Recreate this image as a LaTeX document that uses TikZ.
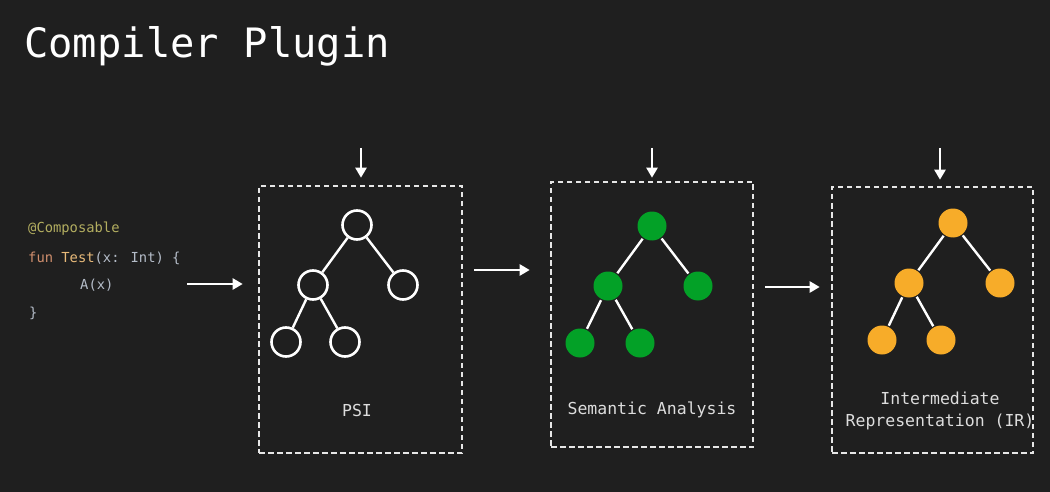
\documentclass[tikz,border=0pt]{standalone}
\usepackage{fontspec}
\newfontfamily\monofont{DejaVu Sans Mono}
\usetikzlibrary{arrows.meta}
\definecolor{bgc}{HTML}{1F1F1F}
\definecolor{boxc}{HTML}{E6E6E6}
\definecolor{greenc}{HTML}{03A127}
\definecolor{orangec}{HTML}{F7AC29}
\definecolor{annot}{HTML}{B3AE60}
\definecolor{kw}{HTML}{CF8E6D}
\definecolor{fnc}{HTML}{E8BA7A}
\definecolor{codec}{HTML}{B4BCC8}
\definecolor{labc}{HTML}{DDDDDD}
\tikzset{
  px/.style={x=1pt,y=-1pt},
  stagebox/.style={draw=boxc,line width=2.6pt,dash pattern=on 5.5pt off 3.5pt},
  flow/.style={draw=white,line width=2.4pt,-{Triangle[length=10pt,width=11pt]}},
  tnode/.style={circle,minimum size=29pt,inner sep=0pt,line width=2.6pt},
  openn/.style={tnode,draw=white},
  greenn/.style={tnode,fill=greenc},
  orangen/.style={tnode,fill=orangec},
  tedge/.style={draw=white,line width=2.4pt},
  lab/.style={font=\monofont\fontsize{16.5}{22}\selectfont,text=labc,align=center},
  code/.style={font=\monofont\fontsize{13.8}{16}\selectfont,anchor=west,inner sep=0pt}
}
\begin{document}
\begin{tikzpicture}[px]
\fill[bgc] (0,0) rectangle (1050,492);
\useasboundingbox (0,0) rectangle (1050,492);
% title
\node[font=\monofont\fontsize{40.5}{44}\selectfont,text=white,anchor=west,inner sep=0pt] (title) at (24,46) {Compiler Plugin};
% code
\node[code,text=annot] (c1) at (28,229) {@Composable};
\node[code] (c2) at (28,258) {\textcolor{kw}{fun} \textcolor{fnc}{Test}\textcolor{codec}{(x: Int) \{}};
\node[code,text=codec] (c3) at (80,285) {A(x)};
\node[code,text=codec] (c4) at (29,313) {\}};
% boxes
\node[stagebox,minimum width=203pt,minimum height=267pt,inner sep=0pt] (b1) at (360.5,319.5) {};
\node[stagebox,minimum width=202pt,minimum height=265pt,inner sep=0pt] (b2) at (652,314.5) {};
\node[stagebox,minimum width=201pt,minimum height=266pt,inner sep=0pt] (b3) at (932.5,320) {};
% top arrows
\coordinate (t1) at (361,148);
\coordinate (t2) at (652,148);
\coordinate (t3) at (940,148);
\draw[flow,shorten >=7pt] (t1) -- (t1 |- b1.north);
\draw[flow,shorten >=3pt] (t2) -- (t2 |- b2.north);
\draw[flow,shorten >=6pt] (t3) -- (t3 |- b3.north);
% horizontal arrows
\coordinate (h0) at (187,284);
\coordinate (h1) at (474,270);
\coordinate (h2) at (765,287);
\draw[flow,shorten >=15pt] (h0) -- (h0 -| b1.west);
\draw[flow,shorten >=20pt] (h1) -- (h1 -| b2.west);
\draw[flow,shorten >=11pt] (h2) -- (h2 -| b3.west);
% tree 1
\node[openn] (p0) at (357,225) {};
\node[openn] (p1) at (313,285) {};
\node[openn] (p2) at (403,285) {};
\node[openn] (p3) at (286,342) {};
\node[openn] (p4) at (345,342) {};
\draw[tedge] (p0) -- (p1); \draw[tedge] (p0) -- (p2);
\draw[tedge] (p1) -- (p3); \draw[tedge] (p1) -- (p4);
% tree 2
\node[greenn] (s0) at (652,226) {};
\node[greenn] (s1) at (608,286) {};
\node[greenn] (s2) at (698,286) {};
\node[greenn] (s3) at (580,343) {};
\node[greenn] (s4) at (640,343) {};
\draw[tedge] (s0) -- (s1); \draw[tedge] (s0) -- (s2);
\draw[tedge] (s1) -- (s3); \draw[tedge] (s1) -- (s4);
% tree 3
\node[orangen] (r0) at (953,223) {};
\node[orangen] (r1) at (909,283) {};
\node[orangen] (r2) at (1000,283) {};
\node[orangen] (r3) at (882,340) {};
\node[orangen] (r4) at (941,340) {};
\draw[tedge] (r0) -- (r1); \draw[tedge] (r0) -- (r2);
\draw[tedge] (r1) -- (r3); \draw[tedge] (r1) -- (r4);
% labels
\node[lab] (l1) at (357,410) {PSI};
\node[lab] (l2) at (652,410) {Semantic Analysis};
\node[lab] (l3) at (940,410.5) {Intermediate\\Representation (IR)};
\end{tikzpicture}
\end{document}
